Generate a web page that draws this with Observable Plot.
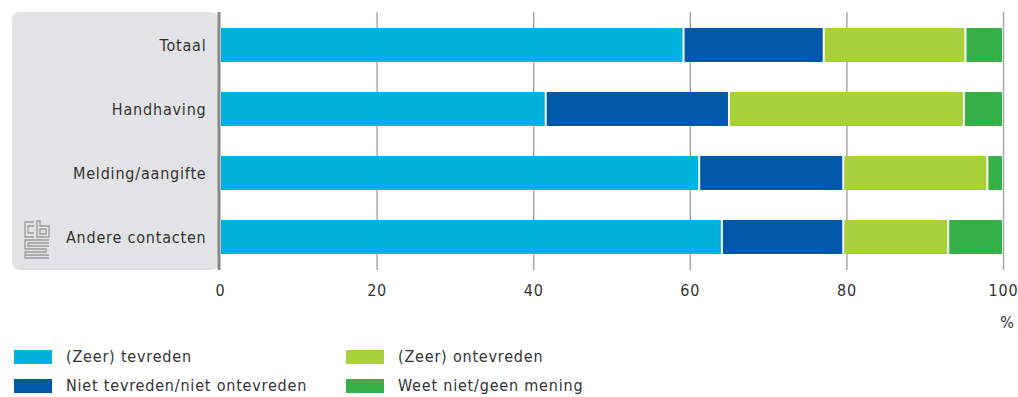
<!DOCTYPE html>
<html><head><meta charset="utf-8">
<script src="https://cdn.jsdelivr.net/npm/d3@7"></script>
<script src="https://cdn.jsdelivr.net/npm/@observablehq/plot@0.6"></script>
<style>
body{margin:0;background:#fff;font-family:"DejaVu Sans Condensed","Liberation Sans Narrow",sans-serif;color:#333;}
#wrap{position:relative;width:1018px;height:397px;overflow:hidden;}
#panel{position:absolute;left:12px;top:12px;width:207px;height:258px;background:#e2e3e4;border-radius:8px;}
#chart{position:absolute;left:0;top:0;}
#pct{position:absolute;right:4px;top:313px;font-size:16px;}
.leg{position:absolute;font-size:16px;letter-spacing:0.8px;display:flex;align-items:center;white-space:nowrap;}
.sw{width:38px;height:14px;margin-right:14px;}
#logo{position:absolute;left:22px;top:220px;}
</style></head>
<body><div id="wrap"><div id="panel"></div>
<svg id="logo" width="30" height="40" viewBox="0 0 30 40"><g fill="none" stroke="#9a9a9a" stroke-width="1.3">
<path d="M12 2H3V17H12M12 6H6V13H12"/><path d="M15 1V17H27V6H18V1Z M18 9H24V14H18Z"/>
<path d="M27 20H3V29H24V32H3V38H27M27 23H6V26H27M3 35H27"/></g></svg>
<div id="chart"></div><div id="pct">%</div></div>
<script>
const categories = ["Totaal","Handhaving","Melding/aangifte","Andere contacten"];
const series = ["(Zeer) tevreden","Niet tevreden/niet ontevreden","(Zeer) ontevreden","Weet niet/geen mening"];
const colors = ["#00b3dc","#0058a8","#a9cf3a","#36b14a"];
const tevreden = [59.2,41.6,61.2,64.1];
const neutraal = [17.9,23.4,18.4,15.5];
const ontevreden = [18.1,30.0,18.4,13.4];
const weetNiet = [4.8,5.0,2.0,7.0];
const ticks = [0,20,40,60,80,100];

const cols = [tevreden, neutraal, ontevreden, weetNiet];
const data = [];
categories.forEach((c,i)=>series.forEach((s,j)=>data.push({cat:c, series:s, value:cols[j][i]})));

const plot = Plot.plot({
  width:1018, height:330,
  marginLeft:220, marginRight:15, marginTop:12, marginBottom:60,
  style:{background:"transparent", fontFamily:'"DejaVu Sans Condensed","Liberation Sans Narrow",sans-serif', fontSize:"16px", letterSpacing:"0.8px", color:"#333"},
  x:{domain:[0,100], ticks:ticks},
  y:{domain:categories, paddingInner:0.475, paddingOuter:0.23},
  color:{domain:series, range:colors},
  marks:[
    Plot.gridX(ticks.slice(1), {stroke:"#a8a8a8", strokeOpacity:1, strokeWidth:1.5}),
    Plot.barX(data, Plot.stackX({x:"value", y:"cat", fill:"series", order:series, insetLeft:1, insetRight:1})),
    Plot.ruleX([0], {stroke:"#888", strokeWidth:3, dx:-1.5}),
    Plot.axisX(ticks, {tickSize:0, tickPadding:14, label:null, fill:"#333"}),
    Plot.axisY({tickSize:0, tickPadding:14, label:null, fill:"#333"})
  ]
});
document.getElementById("chart").appendChild(plot);

const wrap = document.getElementById("wrap");
const pos = [[14,347],[14,376],[346,347],[346,376]];
series.forEach((s,j)=>{
  const d=document.createElement("div"); d.className="leg";
  d.style.left=pos[j][0]+"px"; d.style.top=pos[j][1]+"px";
  d.innerHTML=`<div class="sw" style="background:${colors[j]}"></div><span>${s}</span>`;
  wrap.appendChild(d);
});
</script></body></html>
